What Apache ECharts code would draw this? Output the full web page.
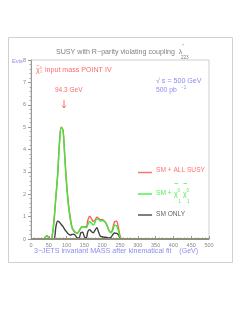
<!DOCTYPE html>
<html><head><meta charset="utf-8">
<script src="https://cdn.jsdelivr.net/npm/echarts@6/dist/echarts.min.js"></script>
<style>html,body{margin:0;padding:0;background:#fff}#c{width:246px;height:319px}</style>
</head><body><div id="c"></div>
<script>
// Bin positions (GeV) and event counts
const massGeV    = [0, 30, 35, 40, 45, 50, 55, 60, 65, 70, 75, 80, 85, 90, 95, 100, 105, 110, 115, 120, 125, 130, 135, 140, 145, 150, 155, 160, 165, 170, 175, 180, 185, 190, 195, 200, 205, 210, 215, 220, 225, 230, 235, 240, 245, 250, 255, 260, 500];
const smAllSusy  = [0, 0, 0, 0.08, 0.15, 0.05, 0, 0.2, 0.9, 1.9, 2.9, 4.3, 5.0, 4.85, 3.7, 2.5, 1.6, 1.0, 0.55, 0.38, 0.3, 0.26, 0.35, 0.5, 0.55, 0.55, 0.55, 0.85, 1.02, 0.9, 0.78, 0.85, 0.97, 0.92, 0.86, 0.86, 0.82, 0.72, 0.55, 0.35, 0.3, 0.5, 0.78, 0.8, 0.55, 0.15, 0, 0, 0];
const smChiChi   = [0, 0, 0, 0.08, 0.15, 0.05, 0, 0.2, 0.9, 1.9, 2.9, 4.3, 5.0, 4.85, 3.6, 2.4, 1.5, 0.9, 0.5, 0.35, 0.28, 0.25, 0.35, 0.5, 0.55, 0.55, 0.5, 0.65, 0.78, 0.7, 0.62, 0.75, 0.9, 0.88, 0.8, 0.82, 0.8, 0.72, 0.55, 0.35, 0.28, 0.4, 0.62, 0.6, 0.4, 0.1, 0, 0, 0];
const smOnly     = [0, 0, 0, 0, 0, 0, 0, 0, 0, 0.55, 0.8, 0.75, 0.65, 0.55, 0.42, 0.32, 0.22, 0.18, 0.2, 0.22, 0.15, 0.05, 0.05, 0.28, 0.3, 0.1, 0.05, 0.35, 0.42, 0.32, 0.28, 0.4, 0.5, 0.3, 0.12, 0.1, 0.08, 0.08, 0.06, 0.05, 0.08, 0.2, 0.27, 0.25, 0.2, 0.05, 0, 0, 0];
const baseline   = [[0, 0], [500, 0]];
const xRange = [0, 500], xStep = 50;
const yRange = [0, 8], yStep = 1;

const F = 'Liberation Sans';
const pair = (ys) => massGeV.map((x, i) => [x, ys[i]]);
const lineSeries = (name, ys, color, z) => ({
  name, type: 'line', data: pair(ys), smooth: 0.35, symbol: 'none', z,
  lineStyle: { color, width: 1.4 }
});

const chart = echarts.init(document.getElementById('c'), null, { renderer: 'canvas' });
const txt = (x, y, text, color, size, extra) => ({
  type: 'text', x, y, silent: true,
  style: Object.assign({ text, fill: color, font: size + 'px "' + F + '"', verticalAlign: 'middle' }, extra || {})
});
const seg = (x1, y1, x2, y2, color, w) => ({
  type: 'line', silent: true, shape: { x1, y1, x2, y2 }, style: { stroke: color, lineWidth: w || 1 }
});

chart.setOption({
  animation: false,
  backgroundColor: '#fff',
  grid: { left: 31, top: 60, width: 178, height: 179, show: true, borderColor: '#cfcfcf', borderWidth: 1 },
  xAxis: {
    type: 'value', min: xRange[0], max: xRange[1], interval: xStep,
    axisLine: { show: true, lineStyle: { color: '#9a9a9a', width: 1 } },
    axisTick: { show: true, inside: true, length: 3, lineStyle: { color: '#999' } },
    minorTick: { show: true, splitNumber: 5, length: 1.5, lineStyle: { color: '#aaa' } },
    splitLine: { show: false },
    axisLabel: { color: '#888', fontSize: 5.5, fontFamily: F, margin: 3 }
  },
  yAxis: {
    type: 'value', min: yRange[0], max: yRange[1], interval: yStep,
    axisLine: { show: true, lineStyle: { color: '#999', width: 1 } },
    axisTick: { show: true, inside: false, length: 3, lineStyle: { color: '#999' } },
    minorTick: { show: true, splitNumber: 5, length: 1.5, lineStyle: { color: '#aaa' } },
    splitLine: { show: false },
    axisLabel: { color: '#888', fontSize: 5.5, fontFamily: F, margin: 5 }
  },
  series: [
    lineSeries('SM ONLY', smOnly, '#404040', 3),
    lineSeries('SM + ALL SUSY', smAllSusy, '#ff5a5a', 4),
    lineSeries('SM + chi chi', smChiChi, '#3ee83e', 5),
    { name: 'zero', type: 'line', data: baseline, symbol: 'none', z: 6,
      lineStyle: { color: '#8e8e78', width: 2 } }
  ],
  graphic: [
    { type: 'rect', silent: true, shape: { x: 8.5, y: 37.5, width: 224, height: 225 },
      style: { fill: 'none', stroke: '#d0d0d0', lineWidth: 1 } },
    // title
    txt(56, 52, 'SUSY with R\u2212parity violating coupling  \u03bb', '#808080', 7.1),
    txt(182, 47, '\'\'', '#808080', 5),
    txt(181, 57.5, '223', '#808080', 4.6),
    // Evts
    txt(12, 61, 'Evts', '#8c8cf0', 5.6),
    // input mass
    txt(36, 70, '\u03c7', '#ff6a6a', 7),
    txt(36.5, 66, '~', '#ff6a6a', 5),
    txt(40, 68, '0', '#ff6a6a', 3.6),
    txt(40, 72, '1', '#ff6a6a', 3.6),
    txt(45, 70, 'input mass POINT IV', '#ff6a6a', 7.1),
    txt(55, 90, '94.3 GeV', '#ff6a6a', 6.5),
    seg(64, 100, 64, 108, '#ff6a6a', 1),
    seg(62, 105.5, 64, 108, '#ff6a6a', 1),
    seg(66, 105.5, 64, 108, '#ff6a6a', 1),
    // sqrt s
    txt(156, 81, '\u221a s = 500 GeV', '#8c8cf0', 7.1),
    txt(156, 90, '500 pb', '#8c8cf0', 6.8),
    txt(181, 87.5, '\u22121', '#8c8cf0', 4.5),
    // legend
    seg(138, 172.5, 152, 172.5, '#ff7070', 1.5),
    txt(156, 170.5, 'SM + ALL SUSY', '#ff7070', 6.6),
    seg(138, 194, 152, 194, '#55ee55', 1.5),
    txt(156, 193.5, 'SM + ', '#55ee55', 6.6),
    txt(174, 194, '\u03c7', '#55ee55', 7),
    txt(177.5, 190.5, '0', '#55ee55', 4.5),
    txt(183, 194, '\u03c7', '#55ee55', 7),
    txt(186.5, 190.5, '0', '#55ee55', 4.5),
    seg(174.5, 183.5, 178, 183.5, '#55ee55', 0.8),
    seg(183.5, 183.5, 187, 183.5, '#55ee55', 0.8),
    txt(178.5, 201.5, '1', '#55ee55', 4.5),
    txt(187, 201.5, '1', '#55ee55', 4.5),
    seg(138, 215, 152, 215, '#555555', 1.5),
    txt(156, 214, 'SM ONLY', '#666666', 6.6),
    // x title
    txt(34, 251, '3\u2212JETS invariant MASS after kinematical fit    (GeV)', '#8c8cf0', 7.1)
  ]
});
</script>
</body></html>
